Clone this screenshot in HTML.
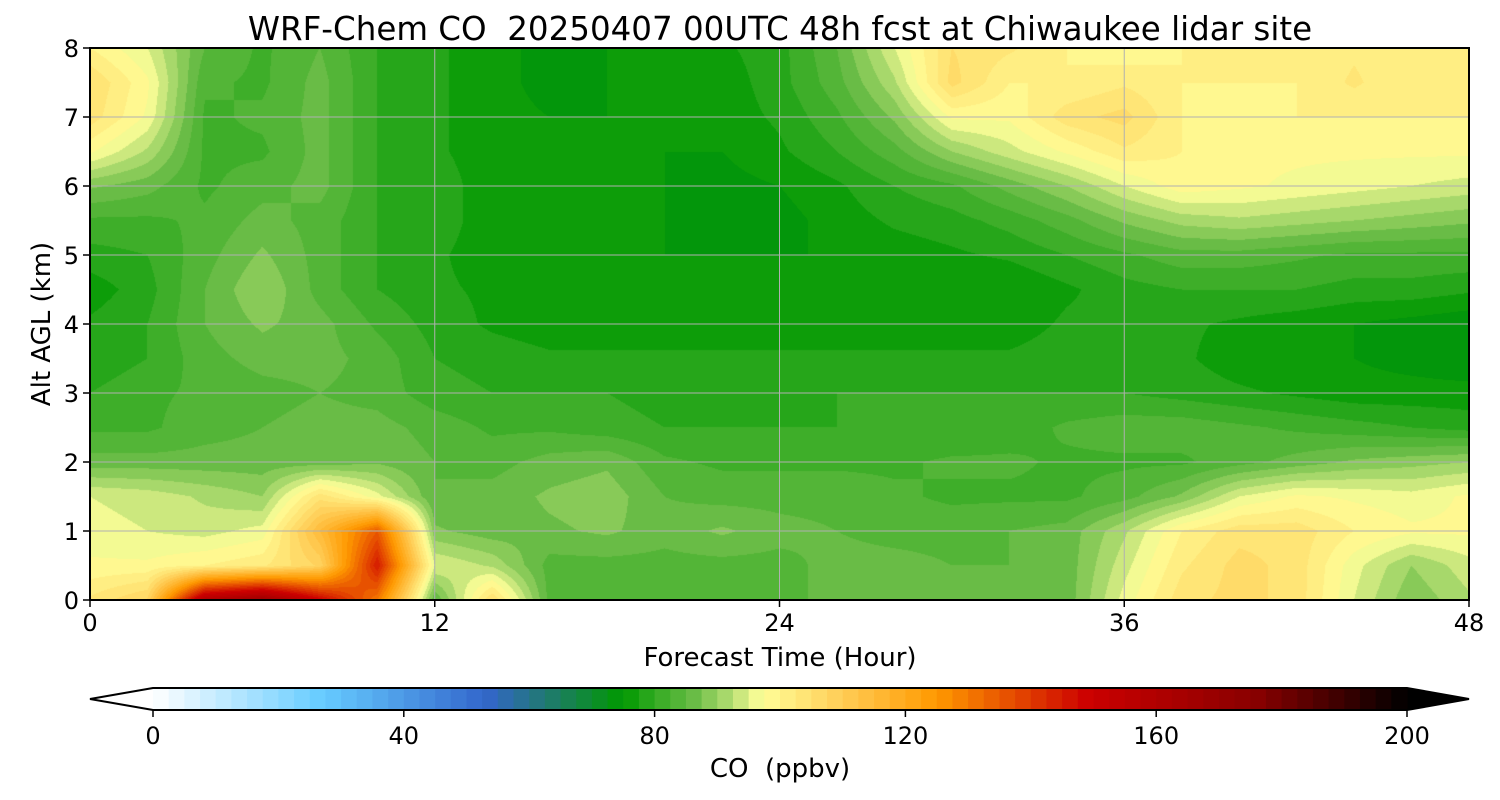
<!DOCTYPE html>
<html><head><meta charset="utf-8">
<style>
body{margin:0;background:#fff;width:1500px;height:800px;overflow:hidden;font-family:"DejaVu Sans","Liberation Sans",sans-serif}
text{white-space:pre}
</style></head>
<body>
<svg id="svg" width="1500" height="800" xmlns="http://www.w3.org/2000/svg" style="position:absolute;left:0;top:0">
<foreignObject x="90" y="48" width="1379" height="552"><canvas xmlns="http://www.w3.org/1999/xhtml" id="cv" width="1379" height="552"></canvas></foreignObject>
<g id="grid"></g>
<rect x="90" y="48" width="1379" height="552" fill="none" stroke="#000" stroke-width="2"/>
<g id="axes" font-size="24" fill="#000"></g>
<text x="780" y="40" text-anchor="middle" font-size="32.5" xml:space="preserve">WRF-Chem CO  20250407 00UTC 48h fcst at Chiwaukee lidar site</text>
<text x="780" y="666" text-anchor="middle" font-size="26">Forecast Time (Hour)</text>
<text transform="translate(50,324) rotate(-90)" text-anchor="middle" font-size="26">Alt AGL (km)</text>
<g id="cbar"></g>
<text x="780" y="777" text-anchor="middle" font-size="26" xml:space="preserve">CO  (ppbv)</text>
</svg>
<script>
const hours=[0,2,4,6,8,10,12,14,16,18,20,22,24,26,28,30,32,34,36,38,40,42,44,46,48];
const heights=[8,7.5,7,6.5,6,5.5,5,4.5,4,3.5,3,2.5,2,1.5,1,0.5,0];
const co=[
[100,95,85,82,85,80,78,76,74,75,75,77,79,85,95,105,103,100,98,100,100,100,102,100,100],
[105,98,83,82,86,80,78,76,74,75,75,76,79,84,92,106,100,100,102,100,100,100,103,100,100],
[104,97,82,83,86,80,78,76,75,75,75,76,78,82,88,98,98,104,106,100,99,100,100,100,100],
[98,92,82,82,86,80,78,76,75,75,75,75,77,80,84,90,94,98,102,100,98,98,98,98,98],
[88,86,82,84,86,80,79,76,75,75,75,74,75,77,80,82,86,90,95,99,98,97,96,95,94],
[82,82,83,86,84,80,79,76,75,75,75,74,74,76,78,79,81,84,88,91,92,91,90,89,88],
[79,80,84,88,84,80,78,76,75,75,75,75,75,75,76,77,78,80,82,84,84,83,82,82,82],
[76,79,85,90,84,80,78,77,75,75,75,75,75,75,75,75,75,77,79,80,80,80,79,79,78],
[78,80,85,88,86,82,79,77,76,76,76,76,76,76,76,76,76,78,78,78,77,76,75,74,73],
[78,80,84,86,86,84,80,79,78,78,78,78,78,78,78,78,78,79,79,78,76,75,75,74,73],
[80,82,83,84,85,84,81,80,80,80,79,79,79,80,80,80,80,80,80,79,78,77,76,76,76],
[82,82,84,85,86,86,84,82,82,81,80,80,80,80,80,80,81,83,84,84,83,82,81,80,79],
[86,86,86,86,86,87,85,84,86,87,83,82,82,82,82,83,83,82,82,82,84,86,88,89,90],
[95,94,92,90,104,96,85,86,88,89,85,84,84,84,83,82,82,82,84,88,95,98,97,96,98],
[96,95,94,96,115,135,88,86,87,88,86,88,86,85,84,84,85,86,92,100,104,104,100,98,98],
[98,98,100,102,108,145,95,92,84,84,84,84,84,86,86,85,85,86,94,102,106,104,96,90,94],
[103,108,160,168,150,130,85,105,84,84,84,84,84,86,86,85,85,86,96,104,106,104,95,88,92]
];
const xTicks=[0,12,24,36,48];
const yTicks=[0,1,2,3,4,5,6,7,8];
const cbTicks=[0,40,80,120,160,200];
const stops=[[0,"#ffffff"],[27,"#66ccff"],[53,"#3366cc"],[62,"#227777"],[75,"#009900"],[80,"#33aa22"],[86,"#66bb44"],[92,"#b0dc70"],[97,"#ffff99"],[110,"#ffcc55"],[125,"#ff9900"],[149,"#cc0000"],[176,"#880000"],[200,"#000000"]];
const PX=90,PY=48,PW=1379,PH=552;
const xs=h=>PX+h/48*PW, ys=a=>PY+(8-a)/8*PH;
const CB0=153,CB1=1407,cx=v=>CB0+v/200*(CB1-CB0);
function hex(c){return [parseInt(c.slice(1,3),16),parseInt(c.slice(3,5),16),parseInt(c.slice(5,7),16)];}
function cmap(v){v=Math.max(0,Math.min(200,v));for(let i=1;i<stops.length;i++){if(v<=stops[i][0]){const a=stops[i-1],b=stops[i],t=(v-a[0])/(b[0]-a[0]);const A=hex(a[1]),B=hex(b[1]);return A.map((x,k)=>Math.round(x+(B[k]-x)*t));}}return [0,0,0];}
function level(v){return Math.floor(v/2.5)*2.5+1.25;}
const cv=document.getElementById('cv'),ctx=cv.getContext('2d'),img=ctx.createImageData(PW,PH);
const hs=[...hours],as=[...heights].reverse(),grid=[...co].reverse();
for(let py=0;py<PH;py++){const a=8-(py+0.5)/PH*8;let j=0;while(j<as.length-2&&a>as[j+1])j++;const ta=(a-as[j])/(as[j+1]-as[j]);
for(let px=0;px<PW;px++){const h=(px+0.5)/PW*48;let i=0;while(i<hs.length-2&&h>hs[i+1])i++;const th=(h-hs[i])/(hs[i+1]-hs[i]);
const v=(grid[j][i]*(1-th)+grid[j][i+1]*th)*(1-ta)+(grid[j+1][i]*(1-th)+grid[j+1][i+1]*th)*ta;
const c=cmap(level(v)),o=(py*PW+px)*4;img.data[o]=c[0];img.data[o+1]=c[1];img.data[o+2]=c[2];img.data[o+3]=255;}}
ctx.putImageData(img,0,0);
const NS="http://www.w3.org/2000/svg";
function mk(tag,at,parent,txt){const e=document.createElementNS(NS,tag);for(const k in at)e.setAttribute(k,at[k]);if(txt!==undefined)e.textContent=txt;parent.appendChild(e);return e;}
const g=document.getElementById('grid'),ax=document.getElementById('axes'),cb=document.getElementById('cbar');
xTicks.forEach(t=>{const x=xs(t);
 if(t>0&&t<48){const l=mk('line',{x1:x,x2:x,y1:PY,y2:PY+PH,stroke:'#b0b0b0','stroke-width':1},g);}
 const tk=mk('line',{x1:x,x2:x,y1:PY+PH,y2:PY+PH+7,stroke:'#000','stroke-width':1.5},ax);
 const tx=mk('text',{x:x,y:PY+PH+31,'text-anchor':'middle'},ax,String(t));});
yTicks.forEach(t=>{const y=ys(t);
 if(t>0&&t<8){const l=mk('line',{x1:PX,x2:PX+PW,y1:y,y2:y,stroke:'#b0b0b0','stroke-width':1},g);}
 const tk=mk('line',{x1:PX-7,x2:PX,y1:y,y2:y,stroke:'#000','stroke-width':1.5},ax);
 const tx=mk('text',{x:PX-11,y:y+9,'text-anchor':'end'},ax,String(t));});
const CY=688,CH=22;
mk('polygon',{points:`${CB0},${CY} 90,${CY+CH/2} ${CB0},${CY+CH}`,fill:'#ffffff'},cb);
mk('polygon',{points:`${CB1},${CY} 1469,${CY+CH/2} ${CB1},${CY+CH}`,fill:'#000000'},cb);
for(let v=0;v<200;v+=2.5){const c=cmap(v+1.25);const r=mk('rect',{x:cx(v),y:CY,width:cx(v+2.5)-cx(v)+0.6,height:CH,fill:`rgb(${c})`},cb);}
mk('polygon',{points:`${CB0},${CY} 90,${CY+CH/2} ${CB0},${CY+CH} ${CB1},${CY+CH} 1469,${CY+CH/2} ${CB1},${CY}`,fill:'none',stroke:'#000','stroke-width':2},cb);
cbTicks.forEach(t=>{const x=cx(t);mk('line',{x1:x,x2:x,y1:CY+CH,y2:CY+CH+7,stroke:'#000','stroke-width':1.5},cb);
 const tx=mk('text',{x:x,y:CY+CH+34,'text-anchor':'middle','font-size':24},cb,String(t));});
</script>
</body></html>
